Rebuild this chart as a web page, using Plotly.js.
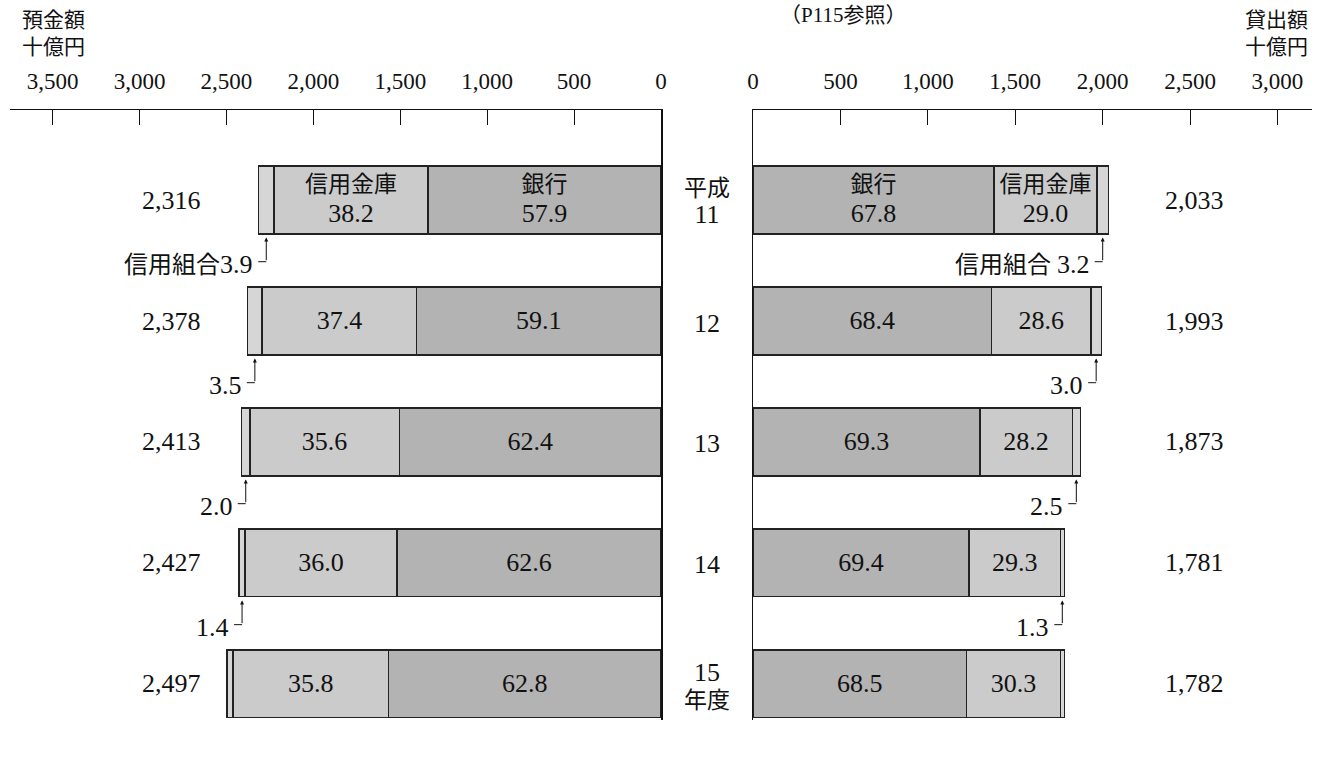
<!DOCTYPE html>
<html>
<head>
<meta charset="utf-8">
<script src="https://cdn.plot.ly/plotly-3.0.1.min.js"></script>
<style>html,body{margin:0;padding:0;background:#fff;}#chart{width:1327px;height:760px;}</style>
</head>
<body>
<div id="chart"></div>
<script>
// ---- data ----
const categories = ['平成<br>11', '12', '13', '14', '15<br>年度'];
const depositTotal = [2316, 2378, 2413, 2427, 2497];      // 十億円
const depositBank = [57.9, 59.1, 62.4, 62.6, 62.8];       // %
const depositShinkin = [38.2, 37.4, 35.6, 36.0, 35.8];    // %
const depositKumiai = [3.9, 3.5, 2.0, 1.4, 1.4];          // %
const loanTotal = [2033, 1993, 1873, 1781, 1782];         // 十億円
const loanBank = [67.8, 68.4, 69.3, 69.4, 68.5];          // %
const loanShinkin = [29.0, 28.6, 28.2, 29.3, 30.3];       // %
const loanKumiai = [3.2, 3.0, 2.5, 1.3, 1.2];             // %
const leftTicks = [0, 500, 1000, 1500, 2000, 2500, 3000, 3500];
const rightTicks = [0, 500, 1000, 1500, 2000, 2500, 3000];

// ---- helpers ----
const FONT = "'Times New Roman', 'Liberation Serif', 'DejaVu Serif', 'Noto Sans CJK JP', serif";
const yIdx = categories.map((_, i) => i);
const amt = (tot, sh) => tot.map((t, i) => t * sh[i] / 100);
const num = s => '<span style="font-size:26px">' + s + '</span>';
const cjk = s => '<span style="font-size:23px">' + s + '</span>';
const fmt = v => num(v.toLocaleString('en-US'));
const pct = (arr, first) => arr.map((v, i) => (i === 0 ? first + '<br>' : '') + num(v.toFixed(1)));

const C_BANK = '#b3b3b3', C_SHIN = '#cbcbcb', C_KUMI = '#d6d6d6';
const lineStyle = {color: '#222', width: 1.3};

function barTrace(x, color, text, xa, ya) {
  return {
    type: 'bar', orientation: 'h', x: x, y: yIdx, xaxis: xa, yaxis: ya,
    marker: {color: color, line: lineStyle},
    text: text, texttemplate: '%{text}', textposition: text ? 'inside' : 'none',
    insidetextanchor: 'middle', textangle: 0, constraintext: 'none',
    insidetextfont: {family: FONT, size: 23, color: '#111'},
    width: 0.56, hoverinfo: 'skip', showlegend: false
  };
}

const traces = [
  barTrace(amt(depositTotal, depositBank), C_BANK, pct(depositBank, '銀行'), 'x', 'y'),
  barTrace(amt(depositTotal, depositShinkin), C_SHIN, pct(depositShinkin, '信用金庫'), 'x', 'y'),
  barTrace(amt(depositTotal, depositKumiai), C_KUMI, null, 'x', 'y'),
  barTrace(amt(loanTotal, loanBank), C_BANK, pct(loanBank, '銀行'), 'x2', 'y2'),
  barTrace(amt(loanTotal, loanShinkin), C_SHIN, pct(loanShinkin, '信用金庫'), 'x2', 'y2'),
  barTrace(amt(loanTotal, loanKumiai), C_KUMI, null, 'x2', 'y2')
];

const annotations = [];
const shapes = [];
const txtFont = {family: FONT, size: 24, color: '#111'};

// totals and category labels
yIdx.forEach(i => {
  annotations.push({xref: 'paper', yref: 'y', x: 0.1244, y: i, text: fmt(depositTotal[i]), showarrow: false, font: txtFont, xanchor: 'center', yanchor: 'middle'});
  annotations.push({xref: 'paper', yref: 'y', x: 0.910, y: i, text: fmt(loanTotal[i]), showarrow: false, font: txtFont, xanchor: 'center', yanchor: 'middle'});
  const lbl = categories[i].split('<br>').map(p => /^\d+$/.test(p) ? num(p) : cjk(p)).join('<br>');
  annotations.push({xref: 'paper', yref: 'y', x: 0.5353, y: i, yshift: -2, text: lbl, showarrow: false,
    font: {family: FONT, size: 21, color: '#111'}, xanchor: 'center', yanchor: 'middle'});
});

// 信用組合 call-outs
function callouts(total, kumiai, xa, ya, firstPrefix) {
  yIdx.forEach(i => {
    const k = total[i] * kumiai[i] / 100;
    const ax = total[i] - k / 2;
    const yHead = i + 0.31, yTail = i + 0.51;
    annotations.push({xref: xa, yref: ya, x: ax, y: yHead, axref: xa, ayref: ya, ax: ax, ay: yTail,
      text: '', showarrow: true, arrowhead: 2, arrowsize: 0.8, arrowwidth: 1, arrowcolor: '#111'});
    shapes.push({type: 'line', xref: xa, yref: ya, xsizemode: 'pixel', xanchor: ax, x0: -8, x1: 0,
      y0: yTail, y1: yTail, line: {color: '#111', width: 1}});
    annotations.push({xref: xa, yref: ya, x: ax, y: yTail + 0.02, xanchor: 'right', yanchor: 'middle', xshift: -11,
      text: (i === 0 ? firstPrefix : '') + num(kumiai[i].toFixed(1)), showarrow: false, font: txtFont});
  });
}
callouts(depositTotal, depositKumiai, 'x', 'y', '信用組合');
callouts(loanTotal, loanKumiai, 'x2', 'y2', '信用組合 ');

// headers
const hFont = {family: FONT, size: 21, color: '#111'};
annotations.push({xref: 'paper', yref: 'paper', x: 0.0077, y: 1.1475, xanchor: 'left', yanchor: 'middle', text: '預金額', showarrow: false, font: hFont});
annotations.push({xref: 'paper', yref: 'paper', x: 0.0077, y: 1.1033, xanchor: 'left', yanchor: 'middle', text: '十億円', showarrow: false, font: hFont});
annotations.push({xref: 'paper', yref: 'paper', x: 0.9985, y: 1.1475, xanchor: 'right', yanchor: 'middle', text: '貸出額', showarrow: false, font: hFont});
annotations.push({xref: 'paper', yref: 'paper', x: 0.9985, y: 1.1033, xanchor: 'right', yanchor: 'middle', text: '十億円', showarrow: false, font: hFont});
annotations.push({xref: 'paper', yref: 'paper', x: 0.6398, y: 1.1555, xanchor: 'center', yanchor: 'middle', text: '（P115参照）', showarrow: false, font: hFont});

const axBase = {
  side: 'top', showline: true, linecolor: '#111', linewidth: 1.5,
  ticks: 'inside', ticklen: 15, tickwidth: 1, tickcolor: '#111',
  showgrid: false, zeroline: false, tickformat: ',d',
  tickfont: {family: FONT, size: 23, color: '#111'}, ticklabelstandoff: 10, fixedrange: true
};
const yBase = {
  range: [4.298, -0.744], showline: true, linecolor: '#111', linewidth: 1.5,
  ticks: '', showticklabels: false, showgrid: false, zeroline: false, fixedrange: true
};

const layout = {
  width: 1327, height: 760,
  margin: {l: 10, r: 15, t: 110, b: 40},
  paper_bgcolor: '#fff', plot_bgcolor: '#fff',
  barmode: 'stack', bargap: 0,
  font: {family: FONT, color: '#111'},
  xaxis: Object.assign({}, axBase, {domain: [0, 0.5], range: [3745, 0], tickvals: leftTicks, anchor: 'y'}),
  xaxis2: Object.assign({}, axBase, {domain: [0.5707, 1], range: [0, 3198], tickvals: rightTicks, anchor: 'y2'}),
  yaxis: Object.assign({}, yBase, {anchor: 'x', side: 'right'}),
  yaxis2: Object.assign({}, yBase, {anchor: 'x2', side: 'left'}),
  annotations: annotations, shapes: shapes
};

Plotly.newPlot('chart', traces, layout, {displayModeBar: false, staticPlot: true});
</script>
</body>
</html>
